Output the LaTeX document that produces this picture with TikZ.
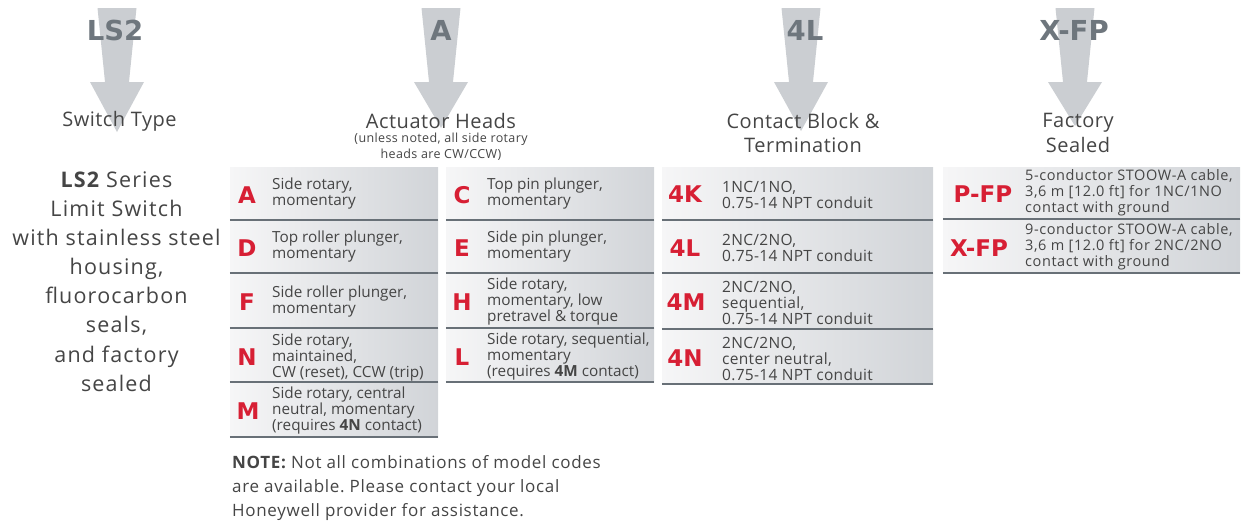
\documentclass[tikz,border=0pt]{standalone}
\usepackage{fontspec}
\setmainfont{Open Sans}
\newfontfamily\codefont{DejaVu Sans}
\definecolor{arrowgray}{HTML}{CBCED2}
\definecolor{titlegray}{HTML}{6E767D}
\definecolor{textgray}{HTML}{454545}
\definecolor{codered}{HTML}{D71F34}
\definecolor{panelL}{HTML}{F6F6F7}
\definecolor{panelR}{HTML}{D1D4D8}
\definecolor{linegray}{HTML}{687077}
\newcommand\setfs[2]{\fontsize{#1}{#2}\selectfont}
\newcommand\lsp[1]{\addfontfeatures{LetterSpace=#1}}
\frenchspacing
\tikzset{
  arrowshape/.style={fill=arrowgray},
  title/.style={text=titlegray, font=\codefont\bfseries\setfs{27.5}{28}, inner sep=0},
  subtitle/.style={text=textgray, font=\lsp{2.5}\setfs{20}{24.5}, align=center, inner sep=0},
  smallnote/.style={text=textgray, font=\lsp{3}\setfs{12.5}{16}, align=center, inner sep=0},
  leftcol/.style={text=textgray, font=\lsp{5.5}\setfs{21.5}{29.1}, align=center, inner sep=0},
  rowbox/.style={left color=panelL, right color=panelR, inner sep=0, minimum height=#1},
  rowline/.style={draw=linegray, line width=2pt},
  code/.style={text=codered, font=\codefont\bfseries\setfs{23}{23}, inner sep=0},
  desc/.style={text=textgray, font=\setfs{15.3}{16}, align=left, anchor=west, inner sep=0},
  desccont/.style={text=textgray, font=\lsp{2}\setfs{15.5}{16}, align=left, anchor=west, inner sep=0},
  descsmall/.style={text=textgray, font=\lsp{4}\setfs{14.5}{15.8}, align=left, anchor=west, inner sep=0},
  notetext/.style={text=textgray, font=\lsp{4}\setfs{17}{24}, align=left, anchor=north west, inner sep=0},
}
\begin{document}
\frenchspacing
\begin{tikzpicture}[x=1pt,y=-1pt]
\useasboundingbox (0,0) rectangle (1242,523);
% arrows
\foreach \cx/\tip in {117/132, 441/128, 801/131, 1075/126}{
  \fill[arrowshape] (\cx-19.5,8) -- (\cx+19.5,8) -- (\cx+12,82) -- (\cx+27,82)
    -- (\cx,\tip) -- (\cx-27,82) -- (\cx-12,82) -- cycle;
}
% titles
\node[title] (tLS2) at (115,30) {LS2};
\node[title] (tA) at (441,30) {A};
\node[title] (t4L) at (805,30) {4L};
\node[title] (tXFP) at (1074,30) {X-FP};
% subtitles
\node[subtitle] (sType) at (119.5,121) {Switch Type};
\node[subtitle] (sAct) at (441,121) {Actuator Heads};
\node[smallnote] (sActNote) at (441,147) {(unless noted, all side rotary\\heads are CW/CCW)};
\node[subtitle] (sCont) at (803,133) {Contact Block \&\\Termination};
\node[subtitle] (sFact) at (1078,133) {Factory\\Sealed};
% left column
\node[leftcol] (lcol) at (116.5,281.5) {{\bfseries LS2} Series\\Limit Switch\\with stainless steel\\housing,\\fluorocarbon\\seals,\\and factory\\sealed};

% actuator heads, left column
\node[rowbox=53pt, minimum width=208pt] (rA) at (334,193.5) {};
\node[rowbox=53pt, minimum width=208pt] (rD) at (334,246.5) {};
\node[rowbox=55pt, minimum width=208pt] (rF) at (334,300.5) {};
\node[rowbox=54pt, minimum width=208pt] (rN) at (334,355) {};
\node[rowbox=55pt, minimum width=208pt] (rM) at (334,409.5) {};
% actuator heads, right column
\node[rowbox=53pt, minimum width=208pt] (rC) at (550,193.5) {};
\node[rowbox=53pt, minimum width=208pt] (rE) at (550,246.5) {};
\node[rowbox=55pt, minimum width=208pt] (rH) at (550,300.5) {};
\node[rowbox=54pt, minimum width=208pt] (rL) at (550,355) {};
% contact block
\node[rowbox=53pt, minimum width=271pt] (r4K) at (797.5,193.5) {};
\node[rowbox=53pt, minimum width=271pt] (r4L) at (797.5,246.5) {};
\node[rowbox=56pt, minimum width=271pt] (r4M) at (797.5,301) {};
\node[rowbox=55pt, minimum width=271pt] (r4N) at (797.5,356.5) {};
% factory sealed
\node[rowbox=52pt, minimum width=297pt] (rPFP) at (1091.5,193) {};
\node[rowbox=54pt, minimum width=297pt] (rXFP) at (1091.5,246) {};

\foreach \r in {rA,rD,rF,rN,rM,rC,rE,rH,rL,r4K,r4L,r4M,r4N,rPFP,rXFP}{
  \draw[rowline] (\r.south west) -- (\r.south east);
}

% codes
\node[code] (cA) at (247,195) {A};
\node[code] (cD) at (247,248) {D};
\node[code] (cF) at (247,302) {F};
\node[code] (cN) at (247,357) {N};
\node[code] (cM) at (248,411) {M};
\node[code] (cC) at (462,195) {C};
\node[code] (cE) at (462,248) {E};
\node[code] (cH) at (462,302) {H};
\node[code] (cL) at (462,357) {L};
\node[code] (c4K) at (685,194) {4K};
\node[code] (c4L) at (685,248) {4L};
\node[code] (c4M) at (686,302) {4M};
\node[code] (c4N) at (685,358) {4N};
\node[code] (cPFP) at (983,194) {P-FP};
\node[code] (cXFP) at (979,248) {X-FP};

% descriptions
\node[desc] (dA) at (272,194) {Side rotary,\\momentary};
\node[desc] (dD) at (272,247) {Top roller plunger,\\momentary};
\node[desc] (dF) at (272,302) {Side roller plunger,\\momentary};
\node[desc] (dN) at (272,358) {Side rotary,\\maintained,\\CW (reset), CCW (trip)};
\node[desc] (dM) at (272,411) {Side rotary, central\\neutral, momentary\\(requires {\bfseries 4N} contact)};
\node[desc] (dC) at (487,194) {Top pin plunger,\\momentary};
\node[desc] (dE) at (487,247) {Side pin plunger,\\momentary};
\node[desc] (dH) at (487,302) {Side rotary,\\momentary, low\\pretravel \& torque};
\node[desc] (dL) at (487,357) {Side rotary, sequential,\\momentary\\(requires {\bfseries 4M} contact)};
\node[desccont] (d4K) at (722,195) {1NC/1NO,\\0.75-14 NPT conduit};
\node[desccont] (d4L) at (722,248) {2NC/2NO,\\0.75-14 NPT conduit};
\node[desccont] (d4M) at (722,303) {2NC/2NO,\\sequential,\\0.75-14 NPT conduit};
\node[desccont] (d4N) at (722,359) {2NC/2NO,\\center neutral,\\0.75-14 NPT conduit};
\node[descsmall] (dPFP) at (1025,193) {5-conductor STOOW-A cable,\\3,6 m [12.0 ft] for 1NC/1NO\\contact with ground};
\node[descsmall] (dXFP) at (1025,247) {9-conductor STOOW-A cable,\\3,6 m [12.0 ft] for 2NC/2NO\\contact with ground};

% note
\node[notetext] (note) at (232,455) {{\bfseries NOTE:} Not all combinations of model codes\\are available. Please contact your local\\Honeywell provider for assistance.};
\end{tikzpicture}
\end{document}
